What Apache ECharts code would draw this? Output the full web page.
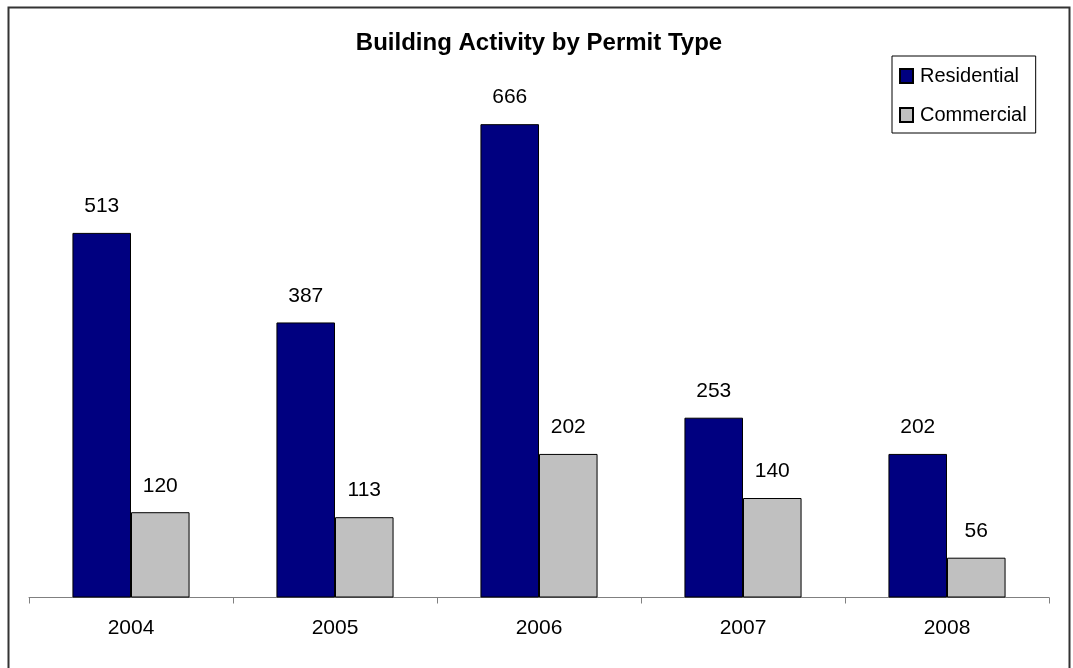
<!DOCTYPE html>
<html>
<head>
<meta charset="utf-8">
<script src="https://cdn.jsdelivr.net/npm/echarts@6/dist/echarts.min.js"></script>
<style>
html,body{margin:0;padding:0;background:#fff;}
#chart{width:1073px;height:668px;}
</style>
</head>
<body>
<div id="chart"></div>
<script>
var years = ['2004', '2005', '2006', '2007', '2008'];
var residential = [513, 387, 666, 253, 202];
var commercial = [120, 113, 202, 140, 56];
var seriesNames = ['Residential', 'Commercial'];

var chart = echarts.init(document.getElementById('chart'), null, {renderer: 'canvas'});
var font = 'Liberation Sans, Arial, sans-serif';
var labelStyle = {show: true, position: 'top', distance: 16, color: '#000', fontSize: 21, fontFamily: font};
chart.setOption({
  animation: false,
  backgroundColor: '#fff',
  title: {
    text: 'Building Activity by Permit Type',
    left: 534, textAlign: 'center', top: 26,
    textStyle: {fontFamily: font, fontWeight: 'bold', fontSize: 24, color: '#000'}
  },
  legend: {
    orient: 'vertical',
    left: 892, top: 56,
    padding: [10, 9, 8, 7],
    itemGap: 19,
    itemWidth: 13, itemHeight: 14,
    icon: 'rect',
    borderColor: '#000', borderWidth: 1,
    textStyle: {fontFamily: font, fontSize: 20, color: '#000', padding: [0, 0, 0, 2]},
    data: seriesNames
  },
  grid: {left: 29, right: 24, top: 100, bottom: 70.5, containLabel: false},
  xAxis: {
    type: 'category',
    data: years,
    axisLine: {lineStyle: {color: '#808080', width: 1}},
    axisTick: {show: true, length: 6, lineStyle: {color: '#808080'}},
    axisLabel: {color: '#000', fontSize: 21, fontFamily: font, margin: 20}
  },
  yAxis: {
    type: 'value', min: 0, max: 700, show: false,
    splitLine: {show: false}
  },
  series: [
    {name: seriesNames[0], type: 'bar', data: residential, barGap: '0%', barCategoryGap: '42.6%',
     itemStyle: {color: '#000080', borderColor: '#000', borderWidth: 1}, label: labelStyle},
    {name: seriesNames[1], type: 'bar', data: commercial, barGap: '0%', barCategoryGap: '42.6%',
     itemStyle: {color: '#C0C0C0', borderColor: '#000', borderWidth: 1}, label: labelStyle}
  ],
  graphic: [{
    type: 'rect', silent: true, z: 100,
    shape: {x: 8.5, y: 7.5, width: 1061, height: 670},
    style: {fill: 'none', stroke: '#333', lineWidth: 2}
  }]
});
</script>
</body>
</html>
